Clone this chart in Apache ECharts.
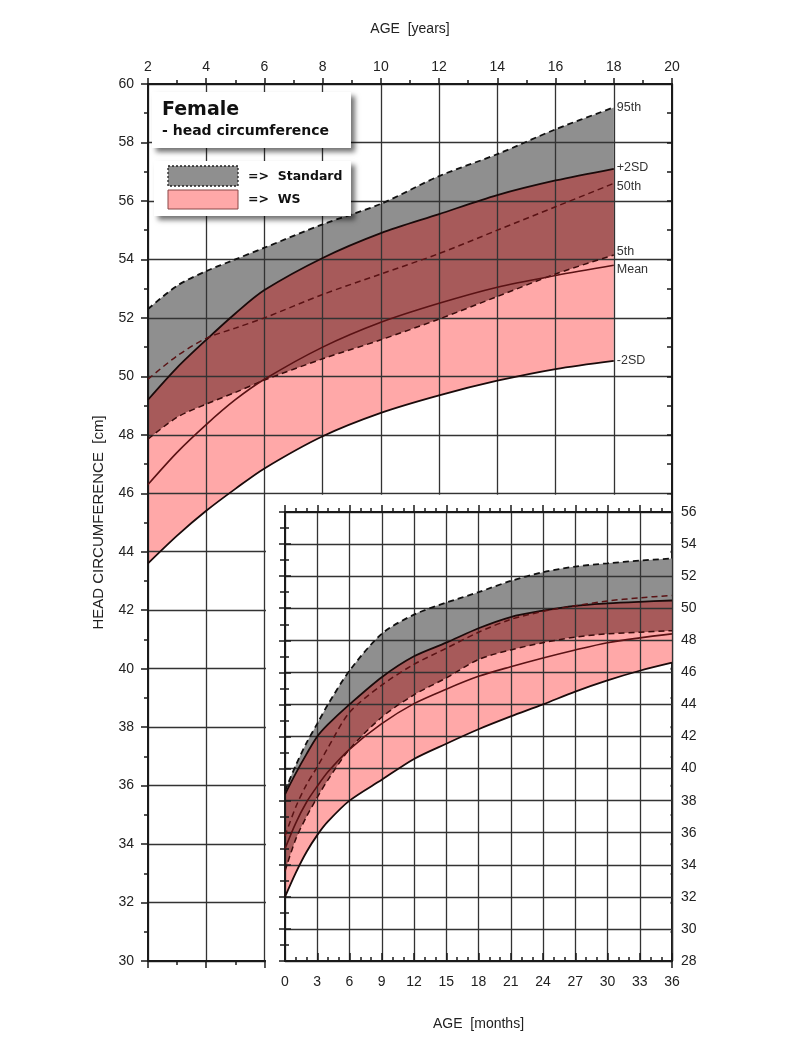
<!DOCTYPE html>
<html>
<head>
<meta charset="utf-8">
<title>Female - head circumference</title>
<script src="https://cdn.jsdelivr.net/npm/echarts@6/dist/echarts.min.js"></script>
<style>
html, body { margin: 0; padding: 0; background: #fff; }
#chart { width: 794px; height: 1064px; }
</style>
</head>
<body>
<div id="chart"></div>
<script>
// main chart, age in years
var yearAges     = [2, 3, 4, 5, 6, 8, 10, 12, 14, 16, 18];
var year95th     = [52.3, 53.1, 53.6, 54.0, 54.4, 55.2, 55.9, 56.85, 57.6, 58.45, 59.2];
var yearPlus2SD  = [49.2, 50.3, 51.25, 52.15, 52.95, 54.05, 54.9, 55.55, 56.2, 56.7, 57.1];
var year50th     = [49.9, 50.7, 51.3, 51.65, 52.0, 52.8, 53.5, 54.2, 55.0, 55.8, 56.6];
var year5th      = [47.85, 48.6, 49.05, 49.45, 49.87, 50.6, 51.25, 51.96, 52.73, 53.5, 54.15];
var yearMean     = [46.3, 47.4, 48.35, 49.2, 49.9, 51.0, 51.85, 52.5, 53.05, 53.45, 53.8];
var yearMinus2SD = [43.6, 44.55, 45.4, 46.15, 46.85, 47.95, 48.75, 49.35, 49.85, 50.25, 50.53];

// inset chart, age in months
var monthAges     = [0, 1, 2, 3, 4, 6, 9, 12, 15, 18, 21, 24, 27, 30, 33, 36];
var month95th     = [38.6, 40.2, 41.6, 42.8, 44.0, 46.1, 48.4, 49.6, 50.35, 51.0, 51.7, 52.25, 52.6, 52.8, 52.97, 53.1];
var monthPlus2SD  = [38.4, 39.7, 40.9, 42.0, 42.75, 44.0, 45.7, 47.0, 47.85, 48.75, 49.45, 49.85, 50.15, 50.3, 50.4, 50.48];
var month50th     = [35.8, 37.6, 39.0, 40.1, 41.3, 43.5, 45.2, 46.5, 47.5, 48.5, 49.3, 49.8, 50.15, 50.45, 50.65, 50.8];
var month5th      = [33.6, 35.6, 37.0, 38.2, 39.3, 41.2, 43.2, 44.6, 45.65, 46.8, 47.4, 47.85, 48.2, 48.4, 48.5, 48.6];
var monthMean     = [35.0, 36.6, 37.9, 38.9, 39.8, 41.2, 42.8, 44.05, 44.95, 45.75, 46.35, 46.9, 47.4, 47.85, 48.15, 48.4];
var monthMinus2SD = [32.0, 33.5, 34.8, 35.85, 36.7, 38.0, 39.3, 40.6, 41.55, 42.45, 43.25, 44.0, 44.8, 45.5, 46.1, 46.6];

var FONT = '"Liberation Sans", Arial, sans-serif';
var GRAY = '#8f8f8f', PINK = '#ffa8a8', DARK = '#a75a5a';
var GRIDLINE = { color: '#333', width: 1.3 };
var AXISLINE = { color: '#1a1a1a', width: 2 };

var chart = echarts.init(document.getElementById('chart'));

function pairs(xs, ys) {
	return xs.map(function (x, i) { return [x, ys[i]]; });
}
// value first, age second: so that stacking works on the value dimension
function pairsYX(xs, ys) {
	return xs.map(function (x, i) { return [ys[i], x]; });
}

// stacked pair of series: invisible lower line + filled difference
function band(stack, xs, lo, hi, color, xi, yi, z) {
	var diff = hi.map(function (v, i) { return Math.max(0, v - lo[i]); });
	var common = {
		type: 'line', stack: stack, xAxisIndex: xi, yAxisIndex: yi, z: z,
		encode: { x: 1, y: 0 }, symbol: 'none', smooth: 0.3, silent: true,
		lineStyle: { opacity: 0 }
	};
	var base = Object.assign({ data: pairsYX(xs, lo) }, common);
	var top = Object.assign({ data: pairsYX(xs, diff), areaStyle: { color: color, opacity: 1 } }, common);
	return [base, top];
}

function curve(name, xs, ys, color, dashed, width, xi, yi, z, labelOffset) {
	var s = {
		name: name, type: 'line', xAxisIndex: xi, yAxisIndex: yi, z: z,
		symbol: 'none', smooth: 0.3, silent: true,
		lineStyle: { color: color, width: width, type: dashed ? [6, 4] : 'solid' },
		data: pairs(xs, ys)
	};
	if (labelOffset) {
		s.endLabel = {
			show: true, distance: 3, offset: labelOffset,
			formatter: function (p) { return p.seriesName; },
			color: '#333', fontFamily: FONT, fontSize: 12.5
		};
	}
	return s;
}

function overlapLo(a, b) { return a.map(function (v, i) { return Math.max(v, b[i]); }); }
function overlapHi(a, b) { return a.map(function (v, i) { return Math.min(v, b[i]); }); }

var series = [];
// main bands
series = series.concat(band('yStd', yearAges, year5th, year95th, GRAY, 0, 0, 2));
series = series.concat(band('yWs', yearAges, yearMinus2SD, yearPlus2SD, PINK, 0, 0, 2));
series = series.concat(band('yBoth', yearAges, overlapLo(year5th, yearMinus2SD),
	overlapHi(year95th, yearPlus2SD), DARK, 0, 0, 2));
// main lines
series.push(curve('95th', yearAges, year95th, '#111', true, 1.8, 0, 0, 4, [0, 0]));
series.push(curve('+2SD', yearAges, yearPlus2SD, '#1a0a0a', false, 1.8, 0, 0, 4, [0, -1]));
series.push(curve('50th', yearAges, year50th, '#5a1214', true, 1.5, 0, 0, 4, [0, 3]));
series.push(curve('5th', yearAges, year5th, '#3a0c0c', true, 1.5, 0, 0, 4, [0, -3]));
series.push(curve('Mean', yearAges, yearMean, '#5a1214', false, 1.6, 0, 0, 4, [0, 4]));
series.push(curve('-2SD', yearAges, yearMinus2SD, '#1a0a0a', false, 1.8, 0, 0, 4, [0, 0]));
// inset bands
series = series.concat(band('mStd', monthAges, month5th, month95th, GRAY, 2, 2, 6));
series = series.concat(band('mWs', monthAges, monthMinus2SD, monthPlus2SD, PINK, 2, 2, 6));
series = series.concat(band('mBoth', monthAges, overlapLo(month5th, monthMinus2SD),
	overlapHi(month95th, monthPlus2SD), DARK, 2, 2, 6));
// inset lines
series.push(curve('95th ', monthAges, month95th, '#111', true, 1.8, 2, 2, 8));
series.push(curve('+2SD ', monthAges, monthPlus2SD, '#1a0a0a', false, 1.8, 2, 2, 8));
series.push(curve('50th ', monthAges, month50th, '#5a1214', true, 1.5, 2, 2, 8));
series.push(curve('5th ', monthAges, month5th, '#3a0c0c', true, 1.5, 2, 2, 8));
series.push(curve('Mean ', monthAges, monthMean, '#5a1214', false, 1.6, 2, 2, 8));
series.push(curve('-2SD ', monthAges, monthMinus2SD, '#1a0a0a', false, 1.8, 2, 2, 8));

var labelStyle = { color: '#222', fontFamily: FONT, fontSize: 14 };
var tickLine = { color: '#1a1a1a', width: 1.5 };

var option = {
	animation: false,
	backgroundColor: '#fff',
	grid: [
		{ left: 148, right: 122, top: 84, bottom: 103, outerBoundsMode: 'none' },
		{ left: 285, right: 122, top: 512, bottom: 103, outerBoundsMode: 'none' }
	],
	xAxis: [{
		// main, top
		type: 'value', gridIndex: 0, position: 'top', min: 2, max: 20, interval: 2, z: 3,
		name: 'AGE  [years]', nameLocation: 'middle', nameGap: 48,
		nameTextStyle: { color: '#222', fontFamily: FONT, fontSize: 14 },
		axisLine: { lineStyle: AXISLINE },
		axisTick: { length: 6, lineStyle: tickLine },
		minorTick: { show: true, splitNumber: 2, length: 4, lineStyle: tickLine },
		axisLabel: Object.assign({ margin: 10 }, labelStyle),
		splitLine: { show: true, lineStyle: GRIDLINE }
	}, {
		// main, bottom (ticks only)
		type: 'value', gridIndex: 0, position: 'bottom', min: 2, max: 20, interval: 2, z: 3,
		axisLine: { lineStyle: AXISLINE },
		axisTick: { length: 7, lineStyle: tickLine },
		minorTick: { show: true, splitNumber: 2, length: 4, lineStyle: tickLine },
		axisLabel: { show: false },
		splitLine: { show: false }
	}, {
		// inset, bottom
		type: 'value', gridIndex: 1, position: 'bottom', min: 0, max: 36, interval: 3, z: 7,
		name: 'AGE  [months]', nameLocation: 'middle', nameGap: 56,
		nameTextStyle: { color: '#222', fontFamily: FONT, fontSize: 14 },
		axisLine: { lineStyle: AXISLINE },
		axisTick: { inside: true, length: 8, lineStyle: tickLine },
		minorTick: { show: true, splitNumber: 3, length: 4, lineStyle: tickLine },
		axisLabel: Object.assign({ margin: 14 }, labelStyle),
		splitLine: { show: true, lineStyle: GRIDLINE }
	}, {
		// inset, top (ticks only)
		type: 'value', gridIndex: 1, position: 'top', min: 0, max: 36, interval: 3, z: 7,
		axisLine: { lineStyle: AXISLINE },
		axisTick: { length: 7, lineStyle: tickLine },
		minorTick: { show: true, splitNumber: 3, length: 4, lineStyle: tickLine },
		axisLabel: { show: false },
		splitLine: { show: false }
	}],
	yAxis: [{
		// main, left
		type: 'value', gridIndex: 0, position: 'left', min: 30, max: 60, interval: 2, z: 3,
		name: 'HEAD CIRCUMFERENCE  [cm]', nameLocation: 'middle', nameGap: 42, nameRotate: 90,
		nameTextStyle: { color: '#222', fontFamily: FONT, fontSize: 15 },
		axisLine: { lineStyle: AXISLINE },
		axisTick: { length: 7, lineStyle: tickLine },
		minorTick: { show: true, splitNumber: 2, length: 4, lineStyle: tickLine },
		axisLabel: Object.assign({ margin: 14 }, labelStyle),
		splitLine: { show: true, lineStyle: GRIDLINE }
	}, {
		// main, right (ticks only)
		type: 'value', gridIndex: 0, position: 'right', min: 30, max: 60, interval: 2, z: 3,
		axisLine: { lineStyle: AXISLINE },
		axisTick: { inside: true, length: 5, lineStyle: tickLine },
		minorTick: { show: true, splitNumber: 2, length: 5, lineStyle: tickLine },
		axisLabel: { show: false },
		splitLine: { show: false }
	}, {
		// inset, left (ticks only)
		type: 'value', gridIndex: 1, position: 'left', min: 28, max: 56, interval: 2, z: 7,
		axisLine: { lineStyle: AXISLINE },
		axisTick: { length: 6, lineStyle: tickLine },
		minorTick: { show: true, splitNumber: 2, length: 5, lineStyle: tickLine },
		axisLabel: { show: false },
		splitLine: { show: true, lineStyle: GRIDLINE }
	}, {
		// inset, right
		type: 'value', gridIndex: 1, position: 'right', min: 28, max: 56, interval: 2, z: 7,
		axisLine: { lineStyle: AXISLINE },
		axisTick: { length: 6, lineStyle: tickLine },
		minorTick: { show: true, splitNumber: 2, length: 4, lineStyle: tickLine },
		axisLabel: Object.assign({ margin: 9 }, labelStyle),
		splitLine: { show: false }
	}],
	series: series
};

chart.setOption(option);

// white panel under the inset, plus the legend boxes
var p1 = chart.convertToPixel({ gridIndex: 0 }, [6, 46]);
var p2 = chart.convertToPixel({ gridIndex: 0 }, [20, 30]);
var boxShadow = { shadowBlur: 5, shadowOffsetX: 4, shadowOffsetY: 4, shadowColor: 'rgba(0,0,0,0.55)' };
var boldFont = '"DejaVu Sans", Lato, sans-serif';

chart.setOption({
	graphic: [{
		type: 'rect', z: 5, silent: true,
		shape: { x: p1[0] + 1.5, y: p1[1] + 1.5, width: p2[0] - p1[0] - 3, height: p2[1] - p1[1] + 10 },
		style: { fill: '#fff' }
	}, {
		type: 'rect', z: 10, silent: true,
		shape: { x: 152, y: 92, width: 199, height: 56 },
		style: Object.assign({ fill: '#fff' }, boxShadow)
	}, {
		type: 'text', z: 11, silent: true, x: 162, y: 110,
		style: { text: 'Female', fill: '#111', font: 'bold 19px ' + boldFont, verticalAlign: 'middle' }
	}, {
		type: 'text', z: 11, silent: true, x: 162, y: 131,
		style: { text: '- head circumference', fill: '#111', font: 'bold 14px ' + boldFont, verticalAlign: 'middle' }
	}, {
		type: 'rect', z: 10, silent: true,
		shape: { x: 154, y: 161, width: 197, height: 55 },
		style: Object.assign({ fill: '#fff' }, boxShadow)
	}, {
		type: 'rect', z: 11, silent: true,
		shape: { x: 168, y: 166, width: 70, height: 20 },
		style: { fill: GRAY, stroke: '#222', lineWidth: 1.3, lineDash: [2, 2] }
	}, {
		type: 'rect', z: 11, silent: true,
		shape: { x: 168, y: 190, width: 70, height: 19 },
		style: { fill: PINK, stroke: '#8a4646', lineWidth: 1 }
	}, {
		type: 'text', z: 11, silent: true, x: 248, y: 177,
		style: { text: '=>  Standard', fill: '#111', font: 'bold 12.5px ' + boldFont, verticalAlign: 'middle' }
	}, {
		type: 'text', z: 11, silent: true, x: 248, y: 200,
		style: { text: '=>  WS', fill: '#111', font: 'bold 12.5px ' + boldFont, verticalAlign: 'middle' }
	}]
});
</script>
</body>
</html>
